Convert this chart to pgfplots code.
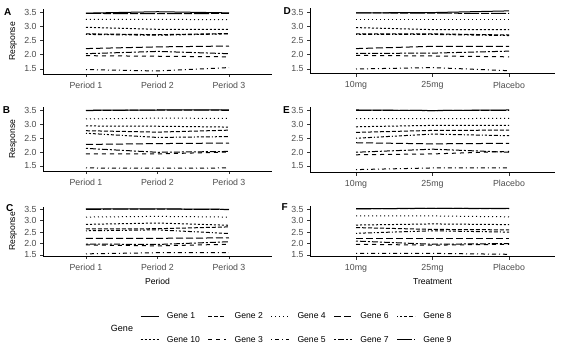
\documentclass[border=0pt]{standalone}
\usepackage{fontspec}
\setmainfont{Liberation Sans}
\usepackage{pgfplots}
\usepackage{pgfplotstable}
\pgfplotsset{compat=1.18}

% one table per panel: columns are genes, rows are the three x levels
\pgfplotstableread{
x g1 g10 g2 g3 g4 g5 g6 g7 g8 g9
1 3.47 2.97 2.74 1.97 3.25 1.48 2.22 2.04 2.72 3.46
2 3.52 2.90 2.71 1.95 3.25 1.43 2.28 2.12 2.69 3.45
3 3.48 2.90 2.75 1.93 3.24 1.55 2.31 2.04 2.74 3.46
}\tabA
\pgfplotstableread{
x g1 g10 g2 g3 g4 g5 g6 g7 g8 g9
1 3.49 2.93 2.76 1.93 3.18 1.43 2.27 2.13 2.67 3.48
2 3.50 2.92 2.71 1.93 3.21 1.42 2.30 1.99 2.52 3.50
3 3.50 2.89 2.78 2.00 3.20 1.43 2.32 2.02 2.55 3.49
}\tabB
\pgfplotstableread{
x g1 g10 g2 g3 g4 g5 g6 g7 g8 g9
1 3.52 2.84 2.64 1.94 3.16 1.55 2.23 1.98 2.56 3.50
2 3.52 2.90 2.65 1.90 3.19 1.60 2.23 1.96 2.60 3.51
3 3.50 2.80 2.73 1.97 3.16 1.60 2.25 2.08 2.44 3.49
}\tabC
\pgfplotstableread{
x g1 g10 g2 g3 g4 g5 g6 g7 g8 g9
1 3.48 2.96 2.74 1.98 3.24 1.50 2.22 2.05 2.72 3.48
2 3.49 2.89 2.74 1.96 3.24 1.55 2.30 2.06 2.72 3.47
3 3.55 2.89 2.70 1.93 3.24 1.44 2.30 2.13 2.68 3.46
}\tabD
\pgfplotstableread{
x g1 g10 g2 g3 g4 g5 g6 g7 g8 g9
1 3.50 2.90 2.70 1.90 3.19 1.37 2.33 1.99 2.49 3.49
2 3.48 2.95 2.77 1.93 3.19 1.43 2.29 2.10 2.64 3.48
3 3.50 2.95 2.78 2.02 3.20 1.43 2.31 1.99 2.58 3.49
}\tabE
\pgfplotstableread{
x g1 g10 g2 g3 g4 g5 g6 g7 g8 g9
1 3.53 2.81 2.70 1.97 3.21 1.57 2.23 2.11 2.45 3.52
2 3.54 2.86 2.62 1.93 3.21 1.57 2.23 1.97 2.56 3.54
3 3.54 2.83 2.60 1.97 3.17 1.53 2.23 2.00 2.50 3.53
}\tabF

\tikzset{
  gl/.style={black, line width=1bp},
  g1/.style={gl, solid},
  g10/.style={gl, dash pattern=on 2bp off 2bp},
  g2/.style={gl, dash pattern=on 4bp off 2bp},
  g3/.style={gl, dash pattern=on 4bp off 4bp},
  g4/.style={gl, dash pattern=on 1bp off 3bp},
  g5/.style={gl, dash pattern=on 1bp off 3bp on 4bp off 3bp},
  g6/.style={gl, dash pattern=on 7bp off 3bp},
  g7/.style={gl, dash pattern=on 2bp off 2bp on 6bp off 2bp},
  g8/.style={gl, dash pattern=on 1bp off 2bp on 2bp off 2bp on 3bp off 2bp on 4bp off 2bp},
  g9/.style={gl, dash pattern=on 15bp off 2bp on 8bp off 2bp},
}

\newcommand\ticfont{\fontsize{8.8bp}{10bp}\selectfont}
\newcommand\labfont{\fontsize{8.6bp}{10bp}\selectfont}

\newcommand\genelines[1]{%
  \addplot[g1] table[x=x,y=g1]{#1};
  \addplot[g10] table[x=x,y=g10]{#1};
  \addplot[g2] table[x=x,y=g2]{#1};
  \addplot[g3] table[x=x,y=g3]{#1};
  \addplot[g4] table[x=x,y=g4]{#1};
  \addplot[g5] table[x=x,y=g5]{#1};
  \addplot[g6] table[x=x,y=g6]{#1};
  \addplot[g7] table[x=x,y=g7]{#1};
  \addplot[g8] table[x=x,y=g8]{#1};
  \addplot[g9] table[x=x,y=g9]{#1};
}

\pgfplotsset{
  panel/.style={
    scale only axis, anchor=south west,
    axis x line*=bottom, axis y line*=left,
    axis line style={-, line width=0.75bp, black},
    tick align=outside, major tick length=3bp,
    tick style={line width=0.75bp, black!80},
    xmin=0.4, xmax=3.6, xtick={1,2,3},
    ytick={1.5,2,2.5,3,3.5},
    ticklabel style={font=\ticfont, color=black!70},
    xticklabel style={yshift=-1.5bp},
    yticklabel style={/pgf/number format/.cd, fixed, fixed zerofill, precision=1,
      assume math mode=true},
    label style={font=\labfont, color=black},
  },
  leftp/.style={panel, width=228.8bp,
    xticklabels={Period 1, Period 2, Period 3},
    ylabel={Response},
    ylabel style={at={(axis description cs:-0.131,0.5)}, anchor=center}},
  rightp/.style={panel, width=244.8bp,
    xticklabels={10mg, 25mg, Placebo}},
}

\begin{document}
\begin{tikzpicture}
\path[use as bounding box] (0bp,0bp) rectangle (562bp,358bp);

% row 1
\begin{axis}[leftp, at={(43.1bp,284.05bp)}, height=65.18bp, ymin=1.3255, ymax=3.6245]
\genelines{\tabA}
\end{axis}
\begin{axis}[rightp, at={(310.1bp,284.3bp)}, height=65.8bp, ymin=1.3345, ymax=3.6555]
\genelines{\tabD}
\end{axis}
% row 2
\begin{axis}[leftp, at={(43.1bp,186.85bp)}, height=64.06bp, ymin=1.316, ymax=3.604]
\genelines{\tabB}
\end{axis}
\begin{axis}[rightp, at={(310.1bp,185.4bp)}, height=65.6bp, ymin=1.2635, ymax=3.6065]
\genelines{\tabE}
\end{axis}
% row 3
\begin{axis}[leftp, at={(43.1bp,101.9bp)}, height=49.5bp, ymin=1.4515, ymax=3.6185,
  xlabel={Period}, xlabel style={at={(axis description cs:0.5,0)}, anchor=center, yshift=-25bp}]
\genelines{\tabC}
\end{axis}
\begin{axis}[rightp, at={(310.1bp,101.4bp)}, height=50.5bp, ymin=1.4295, ymax=3.6405,
  xlabel={Treatment}, xlabel style={at={(axis description cs:0.5,0)}, anchor=center, yshift=-25bp}]
\genelines{\tabF}
\end{axis}

% legend only
\begin{axis}[scale only axis, anchor=south west, at={(0bp,0bp)}, width=562bp, height=358bp,
  xmin=0, xmax=562, ymin=0, ymax=358, hide axis,
  legend columns=5, legend cell align=left,
  legend image code/.code={\draw[#1] (0bp,0bp) -- (18bp,0bp);},
  legend style={at={(axis description cs:0.2491,0.0838)}, anchor=west,
    draw=none, fill=none, inner sep=0pt, row sep=16bp,
    font=\labfont,
    nodes={inner sep=0pt},
    /tikz/every odd column/.append style={column sep=7.7bp},
    /tikz/every even column/.append style={column sep=8bp}}]
\addlegendimage{g1}\addlegendentry{Gene 1}
\addlegendimage{g2}\addlegendentry{Gene 2}
\addlegendimage{g4}\addlegendentry{Gene 4}
\addlegendimage{g6}\addlegendentry{Gene 6}
\addlegendimage{g8}\addlegendentry{Gene 8}
\addlegendimage{g10}\addlegendentry{Gene 10}
\addlegendimage{g3}\addlegendentry{Gene 3}
\addlegendimage{g5}\addlegendentry{Gene 5}
\addlegendimage{g7}\addlegendentry{Gene 7}
\addlegendimage{g9}\addlegendentry{Gene 9}
\end{axis}

\node[font=\fontsize{9bp}{10bp}\selectfont, anchor=center] at (122bp,30bp) {Gene};

% panel letters
\begin{scope}[every node/.style={anchor=base west, inner sep=0pt, font=\bfseries\fontsize{10bp}{12bp}\selectfont}]
\node at (4bp,342.7bp) {A};
\node at (283.5bp,343bp) {D};
\node at (2.7bp,244bp) {B};
\node at (283bp,244.5bp) {E};
\node at (6bp,146bp) {C};
\node at (281.5bp,147.5bp) {F};
\end{scope}
\end{tikzpicture}
\end{document}
